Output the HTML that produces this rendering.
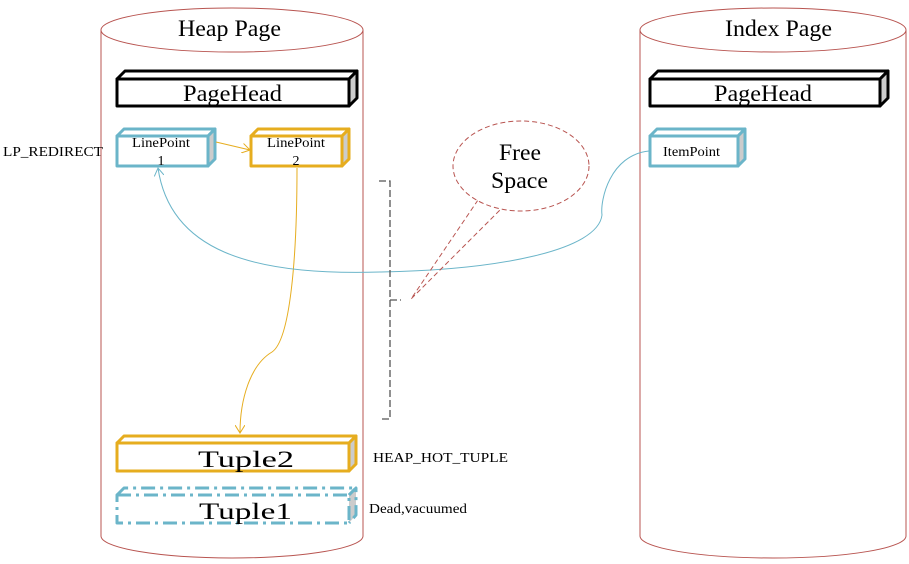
<!DOCTYPE html>
<html><head><style>body{margin:0;background:#fff}svg{display:block}text{font-family:"Liberation Serif",serif;fill:#000}</style></head><body>
<svg width="909" height="564" viewBox="0 0 909 564" xmlns="http://www.w3.org/2000/svg">
<defs>
<marker id="ao" markerWidth="10" markerHeight="10" refX="8" refY="5" orient="auto" markerUnits="userSpaceOnUse"><path d="M0,0 L8,5 L0,10" fill="none" stroke="#e6ad1f" stroke-width="1"/></marker>
<marker id="ab" markerWidth="10" markerHeight="10" refX="8" refY="5" orient="auto" markerUnits="userSpaceOnUse"><path d="M0,0 L8,5 L0,10" fill="none" stroke="#6bb5c9" stroke-width="1"/></marker>
</defs>
<g fill="none" stroke="#b85450" stroke-width="1">
<path d="M101,30 L101,536 A131,22 0 0 0 363,536 L363,30"/>
<ellipse cx="232" cy="30" rx="131" ry="22" fill="#fff"/>
<path d="M640,30 L640,536 A133,22 0 0 0 906,536 L906,30"/>
<ellipse cx="773" cy="30" rx="133" ry="22" fill="#fff"/>
</g>
<text x="178" y="36" font-size="23" textLength="103" lengthAdjust="spacingAndGlyphs">Heap Page</text>
<text x="725" y="36" font-size="23" textLength="107" lengthAdjust="spacingAndGlyphs">Index Page</text>

<g stroke="#000" stroke-width="3" stroke-linejoin="round">
<path d="M117,79 L125,71 L357,71 L349,79Z" fill="#fff"/>
<path d="M349,79 L357,71 L357,98 L349,106Z" fill="#ccc"/>
<rect x="117" y="79" width="232" height="27" fill="#fff"/>
<path d="M650,79 L658,71 L888,71 L880,79Z" fill="#fff"/>
<path d="M880,79 L888,71 L888,98 L880,106Z" fill="#ccc"/>
<rect x="650" y="79" width="230" height="27" fill="#fff"/>
</g>
<text x="183" y="101" font-size="23" textLength="99" lengthAdjust="spacingAndGlyphs">PageHead</text>
<text x="714" y="101" font-size="23" textLength="98" lengthAdjust="spacingAndGlyphs">PageHead</text>

<g stroke="#6bb5c9" stroke-width="3" stroke-linejoin="round">
<path d="M117,136 L124,129 L215,129 L208,136Z" fill="#fff"/>
<path d="M208,136 L215,129 L215,159 L208,166Z" fill="#ccc"/>
<rect x="117" y="136" width="91" height="30" fill="#fff"/>
<path d="M650,136 L657,129 L745,129 L738,136Z" fill="#fff"/>
<path d="M738,136 L745,129 L745,159 L738,166Z" fill="#ccc"/>
<rect x="650" y="136" width="88" height="30" fill="#fff"/>
</g>
<text x="132" y="147" font-size="14" textLength="58" lengthAdjust="spacingAndGlyphs">LinePoint</text>
<text x="161" y="165" font-size="14" text-anchor="middle">1</text>
<text x="663" y="156" font-size="14" textLength="57" lengthAdjust="spacingAndGlyphs">ItemPoint</text>
<g stroke="#e6ad1f" stroke-width="3" stroke-linejoin="round">
<path d="M251,136 L258,129 L349,129 L342,136Z" fill="#fff"/>
<path d="M342,136 L349,129 L349,159 L342,166Z" fill="#ccc"/>
<rect x="251" y="136" width="91" height="30" fill="#fff"/>
</g>
<text x="267" y="147" font-size="14" textLength="58" lengthAdjust="spacingAndGlyphs">LinePoint</text>
<text x="296" y="165" font-size="14" text-anchor="middle">2</text>

<g stroke="#e6ad1f" stroke-width="3" stroke-linejoin="round">
<path d="M117,443 L124,436 L356,436 L349,443Z" fill="#fff"/>
<path d="M349,443 L356,436 L356,464 L349,471Z" fill="#ccc"/>
<rect x="117" y="443" width="232" height="28" fill="#fff"/>
</g>
<text x="198" y="467" font-size="23" textLength="96" lengthAdjust="spacingAndGlyphs">Tuple2</text>
<g stroke="#6bb5c9" stroke-width="3" stroke-dasharray="14,5,3,5" stroke-linejoin="round" fill="none">
<path d="M117,495 L124,488 L356,488 L349,495"/>
<path d="M349,495 L356,488 L356,515 L349,523" fill="#ccc"/>
<rect x="117" y="495" width="232" height="28"/>
</g>
<text x="199" y="519" font-size="23" textLength="93" lengthAdjust="spacingAndGlyphs">Tuple1</text>

<text x="3" y="156" font-size="14" textLength="100" lengthAdjust="spacingAndGlyphs">LP_REDIRECT</text>
<text x="373" y="462" font-size="14" textLength="135" lengthAdjust="spacingAndGlyphs">HEAP_HOT_TUPLE</text>
<text x="369" y="513" font-size="14" textLength="98" lengthAdjust="spacingAndGlyphs">Dead,vacuumed</text>

<line x1="216" y1="142" x2="250" y2="150" stroke="#e6ad1f" stroke-width="1" marker-end="url(#ao)"/>
<path d="M297,168 C297,260 290,340 272,352 C250,365 240,400 240,433" fill="none" stroke="#e6ad1f" stroke-width="1" marker-end="url(#ao)"/>
<path d="M649,151 C610,155 600,200 602,215 C598,250 500,270 380,272 C250,276 170,250 158,168" fill="none" stroke="#6bb5c9" stroke-width="1" marker-end="url(#ab)"/>

<path d="M379,181 L390,181 L390,419 L379,419 M390,300 L401,300" fill="none" stroke="#555" stroke-width="1.3" stroke-dasharray="7,3"/>

<path d="M478,200 L411,299 L501,209" fill="none" stroke="#b85450" stroke-width="1" stroke-dasharray="5,3"/>
<ellipse cx="521" cy="166" rx="68" ry="45" fill="#fff" stroke="#b85450" stroke-width="1" stroke-dasharray="5,3"/>
<text x="499" y="160" font-size="23" textLength="42" lengthAdjust="spacingAndGlyphs">Free</text>
<text x="491" y="188" font-size="23" textLength="57" lengthAdjust="spacingAndGlyphs">Space</text>
</svg>
</body></html>
